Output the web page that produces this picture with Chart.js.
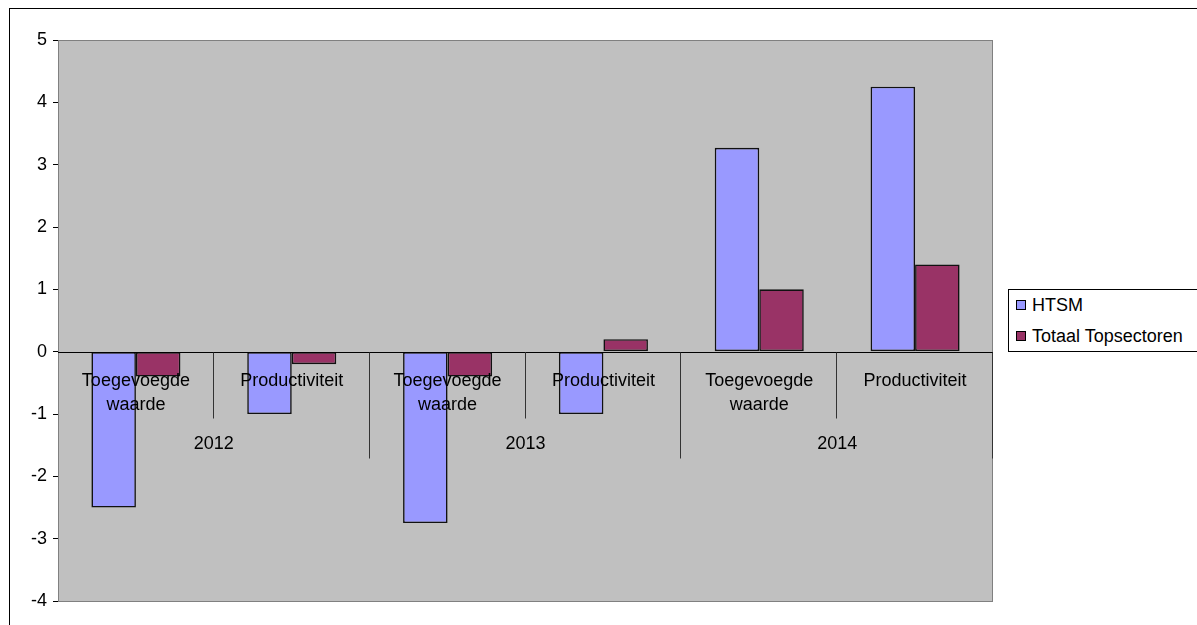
<!DOCTYPE html>
<html>
<head>
<meta charset="utf-8">
<script src="https://cdn.jsdelivr.net/npm/chart.js@4.4.0/dist/chart.umd.min.js"></script>
<style>
    body { margin: 0; width: 1197px; height: 625px; overflow: hidden; background: #fff; font-family: "Liberation Sans", Arial, sans-serif; }
    .frame { position: absolute; left: 9px; top: 8px; width: 1300px; height: 700px; border: 1px solid #000; }
    #chart-wrap { position: absolute; left: 0; top: 0; width: 1000px; height: 625px; }
    .legend { position: absolute; left: 1008px; top: 289px; width: 300px; height: 61px; border: 1px solid #000; background: #fff; }
    .legend div { position: absolute; left: 7px; font-size: 18px; line-height: 20px; color: #000; white-space: nowrap; }
    .legend span { display: inline-block; width: 8px; height: 8px; border: 1px solid #000; margin-right: 6px; vertical-align: 1px; }
</style>
</head>
<body>
<div class="frame"></div>
<div id="chart-wrap"><canvas id="barChart" width="1000" height="625"></canvas></div>
<div class="legend" id="legend"></div>
<script>
const years = ['2012', '2013', '2014'];
const measures = [['Toegevoegde', 'waarde'], ['Productiviteit']];
const categories = [
    ['Toegevoegde', 'waarde'], ['Productiviteit'],
    ['Toegevoegde', 'waarde'], ['Productiviteit'],
    ['Toegevoegde', 'waarde'], ['Productiviteit']
];
const htsm = [-2.5, -1, -2.75, -1, 3.27, 4.25];
const totaal = [-0.4, -0.2, -0.4, 0.2, 1.0, 1.4];
const seriesNames = ['HTSM', 'Totaal Topsectoren'];
const seriesColors = ['#9999FF', '#993366'];

const fontFamily = '"Liberation Sans", Arial, sans-serif';

const plotBackground = {
    id: 'plotBackground',
    beforeDatasetsDraw(chart) {
        const { ctx, chartArea: a } = chart;
        ctx.save();
        ctx.fillStyle = '#C0C0C0';
        ctx.fillRect(a.left, a.top, a.right - a.left, a.bottom - a.top);
        ctx.strokeStyle = '#808080';
        ctx.lineWidth = 1;
        ctx.strokeRect(a.left + 0.5, a.top + 0.5, a.right - a.left - 1, a.bottom - a.top);
        ctx.restore();
    }
};

// multi-level category axis drawn at y = 0, like Excel
const groupedAxis = {
    id: 'groupedAxis',
    afterDatasetsDraw(chart) {
        const { ctx, chartArea: a } = chart;
        const x = chart.scales.x;
        const y0 = Math.round(chart.scales.y.getPixelForValue(0)) + 0.5;
        const step = x.getPixelForValue(1) - x.getPixelForValue(0);
        ctx.save();
        ctx.strokeStyle = '#000';
        ctx.lineWidth = 1;
        ctx.beginPath();
        ctx.moveTo(a.left, y0);
        ctx.lineTo(a.right, y0);
        ctx.stroke();

        ctx.strokeStyle = '#333';
        categories.forEach((c, i) => {
            const bx = Math.round(x.getPixelForValue(i) + step / 2) - 0.5;
            const long = (i + 1) % measures.length === 0;
            ctx.beginPath();
            ctx.moveTo(bx, y0);
            ctx.lineTo(bx, y0 + (long ? 106 : 66));
            ctx.stroke();
        });

        ctx.fillStyle = '#000';
        ctx.font = '18px ' + fontFamily;
        ctx.textAlign = 'center';
        ctx.textBaseline = 'middle';
        categories.forEach((c, i) => {
            const cx = x.getPixelForValue(i);
            c.forEach((line, j) => ctx.fillText(line, cx, y0 + 29 + j * 24));
        });
        years.forEach((yr, g) => {
            const cx = (x.getPixelForValue(g * 2) + x.getPixelForValue(g * 2 + 1)) / 2;
            ctx.fillText(yr, cx, y0 + 92);
        });
        ctx.restore();
    }
};

const chart = new Chart(document.getElementById('barChart'), {
    type: 'bar',
    data: {
        labels: categories,
        datasets: [{
            label: seriesNames[0],
            data: htsm,
            backgroundColor: seriesColors[0]
        }, {
            label: seriesNames[1],
            data: totaal,
            backgroundColor: seriesColors[1]
        }]
    },
    options: {
        responsive: false,
        animation: false,
        datasets: {
            bar: {
                borderColor: '#111',
                borderWidth: 1.6,
                borderSkipped: false,
                categoryPercentage: 2 / 3.5,
                barPercentage: 1
            }
        },
        layout: { padding: { top: 40, bottom: 24, left: 0, right: 7 } },
        plugins: {
            legend: { display: false },
            tooltip: { enabled: false }
        },
        scales: {
            x: { display: false },
            y: {
                min: -4,
                max: 5,
                afterFit: s => { s.width = 58; },
                ticks: {
                    stepSize: 1,
                    color: '#000',
                    padding: 6,
                    font: { family: fontFamily, size: 18 }
                },
                grid: { drawOnChartArea: false, color: '#000', tickLength: 5 },
                border: { color: '#000' }
            }
        }
    },
    plugins: [plotBackground, groupedAxis]
});

document.getElementById('legend').innerHTML = seriesNames.map((n, i) =>
    `<div style="top:${5 + i * 31}px"><span style="background:${seriesColors[i]}"></span>${n}</div>`
).join('');
</script>
</body>
</html>
